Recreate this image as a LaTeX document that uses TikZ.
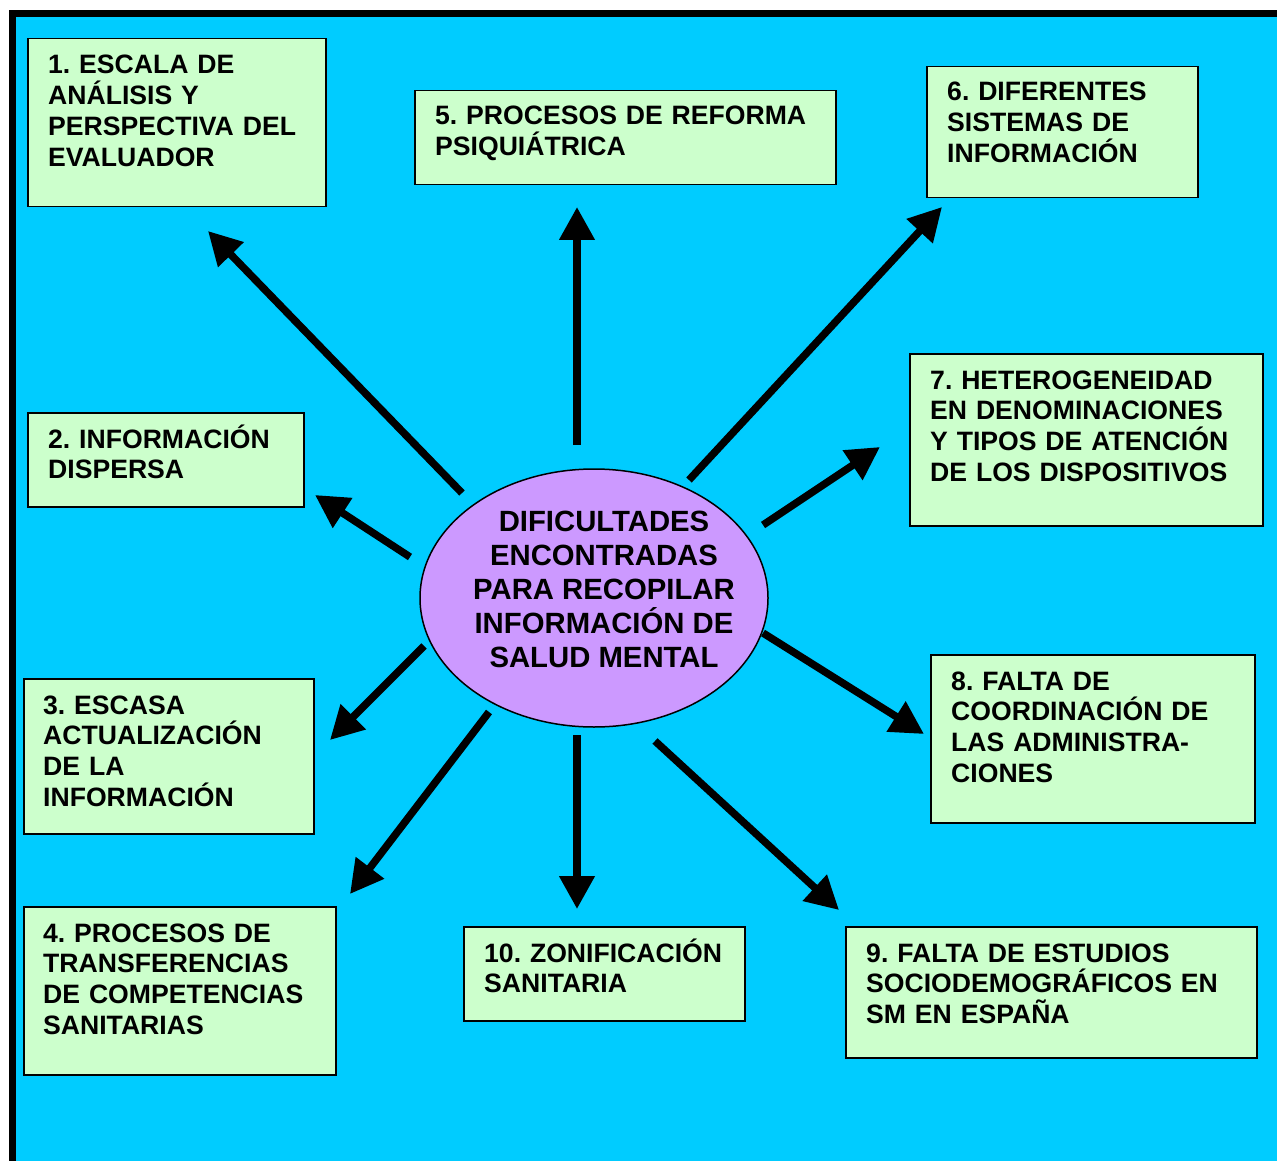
\documentclass[tikz,border=0pt]{standalone}
\usepackage{fontspec}
\setmainfont{Liberation Sans}
\usetikzlibrary{arrows.meta,shapes.geometric}

\definecolor{skyfill}{HTML}{00CCFF}
\definecolor{boxgreen}{HTML}{CCFFCC}
\definecolor{ovalpurple}{HTML}{CC99FF}

\frenchspacing

\begin{document}
\begin{tikzpicture}[x=1pt,y=-1pt,
  box/.style={draw=black, line width=1.5pt, fill=boxgreen, anchor=north west, inner sep=0pt},
  btxt/.style={anchor=base west, align=left, inner sep=0pt, text width=420pt,
               font=\fontsize{26.6}{30.7}\selectfont\bfseries},
  otxt/.style={anchor=center, align=center, inner sep=0pt,
               font=\fontsize{29.3}{34}\selectfont\bfseries},
  arr/.style={line width=7.5pt, -{Triangle[length=33pt,width=34pt]}}]

\useasboundingbox (0,0) rectangle (1277,1161);

% page frame and background
\fill[white] (0,0) rectangle (1277,1161);
\fill[black] (9,10) rectangle (1277,1161);
\fill[skyfill] (16,17) rectangle (1277,1161);

% central oval
\node[draw=black, line width=1.5pt, fill=ovalpurple, ellipse, inner sep=0pt,
      minimum width=348pt, minimum height=258pt] (core) at (594,598) {};
\node[otxt] (coretxt) at (604,589) {DIFICULTADES\\ENCONTRADAS\\PARA RECOPILAR\\INFORMACIÓN DE\\SALUD MENTAL};

% boxes
\node[box, minimum width=298pt, minimum height=168pt] (b1) at (27,38) {};
\node[box, minimum width=421pt, minimum height=94pt] (b5) at (414,90) {};
\node[box, minimum width=271pt, minimum height=131pt] (b6) at (926,66) {};
\node[box, minimum width=353pt, minimum height=172pt] (b7) at (909,353) {};
\node[box, minimum width=276pt, minimum height=94pt] (b2) at (27,412) {};
\node[box, minimum width=290pt, minimum height=155pt] (b3) at (23,678) {};
\node[box, minimum width=324pt, minimum height=168pt] (b8) at (930,654) {};
\node[box, minimum width=312pt, minimum height=168pt] (b4) at (23,906) {};
\node[box, minimum width=281pt, minimum height=94pt] (b10) at (463,926) {};
\node[box, minimum width=411pt, minimum height=131pt] (b9) at (845,926) {};

% box texts
\node[btxt] (t1) at ([shift={(21,36)}]b1.north west) {1. ESCALA DE\\ANÁLISIS Y\\PERSPECTIVA DEL\\EVALUADOR};
\node[btxt] (t5) at ([shift={(21,35)}]b5.north west) {5. PROCESOS DE REFORMA\\PSIQUIÁTRICA};
\node[btxt] (t6) at ([shift={(21,35)}]b6.north west) {6. DIFERENTES\\SISTEMAS DE\\INFORMACIÓN};
\node[btxt] (t7) at ([shift={(21,36)}]b7.north west) {7. HETEROGENEIDAD\\EN DENOMINACIONES\\Y TIPOS DE ATENCIÓN\\DE LOS DISPOSITIVOS};
\node[btxt] (t2) at ([shift={(21,36)}]b2.north west) {2. INFORMACIÓN\\DISPERSA};
\node[btxt] (t3) at ([shift={(20,36)}]b3.north west) {3. ESCASA\\ACTUALIZACIÓN\\DE LA\\INFORMACIÓN};
\node[btxt] (t8) at ([shift={(21,36)}]b8.north west) {8. FALTA DE\\COORDINACIÓN DE\\LAS ADMINISTRA-\\CIONES};
\node[btxt] (t4) at ([shift={(20,36)}]b4.north west) {4. PROCESOS DE\\TRANSFERENCIAS\\DE COMPETENCIAS\\SANITARIAS};
\node[btxt] (t10) at ([shift={(21,36)}]b10.north west) {10. ZONIFICACIÓN\\SANITARIA};
\node[btxt] (t9) at ([shift={(21,36)}]b9.north west) {9. FALTA DE ESTUDIOS\\SOCIODEMOGRÁFICOS EN\\SM EN ESPAÑA};

% arrow ends
\coordinate (s1) at (462,493);  \coordinate (e1) at (208,231);
\coordinate (s5) at (577,445);  \coordinate (e5) at (577,207);
\coordinate (s6) at (689,480);  \coordinate (e6) at (942,207);
\coordinate (s7) at (763,525);  \coordinate (e7) at (880,447);
\coordinate (s2) at (410,557);  \coordinate (e2) at (315,495);
\coordinate (s3) at (424,646);  \coordinate (e3) at (330,740);
\coordinate (s8) at (763,633);  \coordinate (e8) at (924,734);
\coordinate (s4) at (489,712);  \coordinate (e4) at (350,894);
\coordinate (s10) at (577,735); \coordinate (e10) at (577,909);
\coordinate (s9) at (655,741);  \coordinate (e9) at (839,910);

% arrows
\foreach \k in {1,2,3,4,5,6,7,8,9,10}
  \draw[arr] (s\k) -- (e\k);

\end{tikzpicture}
\end{document}
